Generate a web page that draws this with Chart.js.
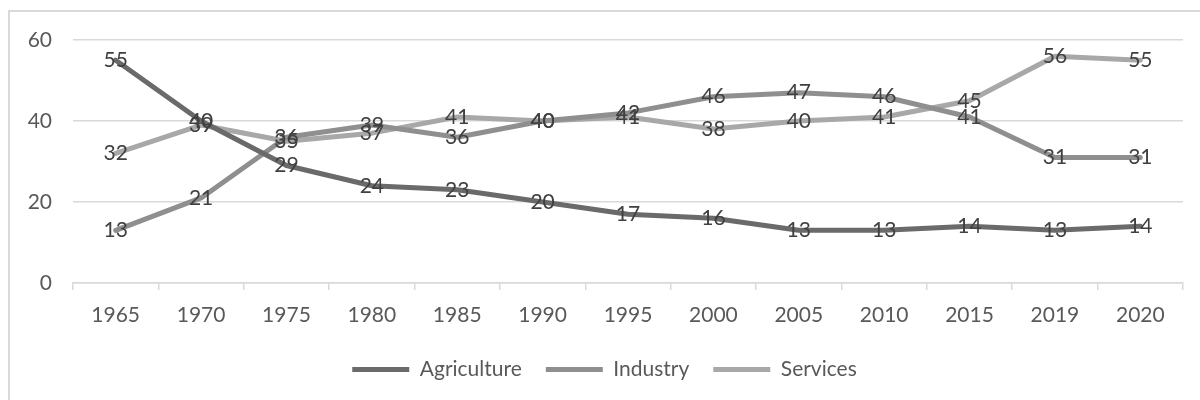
<!DOCTYPE html>
<html>
<head>
<meta charset="utf-8">
<script src="https://cdn.jsdelivr.net/npm/chart.js@4/dist/chart.umd.min.js"></script>
<style>
  html, body { margin: 0; padding: 0; background: #ffffff; overflow: hidden; width: 1200px; height: 400px; }
  #frame { position: absolute; left: 8px; top: 10px; width: 1220px; height: 420px; border: 2px solid #d9d9d9; }
  #wrap { position: absolute; left: 0; top: 0; width: 1200px; height: 400px; }
</style>
</head>
<body>
<div id="frame"></div>
<div id="wrap"><canvas id="c" width="1200" height="400"></canvas></div>
<script>
const categories = ['1965','1970','1975','1980','1985','1990','1995','2000','2005','2010','2015','2019','2020'];
const agriculture = [55, 40, 29, 24, 23, 20, 17, 16, 13, 13, 14, 13, 14];
const industry    = [13, 21, 36, 39, 36, 40, 42, 46, 47, 46, 41, 31, 31];
const services    = [32, 39, 35, 37, 41, 40, 41, 38, 40, 41, 45, 56, 55];
const yTicks = [0, 20, 40, 60];

const FONT = 'Lato, "Open Sans", sans-serif';

const valueLabels = {
  id: 'valueLabels',
  afterDatasetsDraw(chart) {
    const ctx = chart.ctx;
    ctx.save();
    ctx.font = '21px ' + FONT;
    ctx.fillStyle = '#404040';
    ctx.textAlign = 'center';
    ctx.textBaseline = 'middle';
    chart.data.datasets.forEach((ds, di) => {
      const meta = chart.getDatasetMeta(di);
      meta.data.forEach((pt, i) => {
        ctx.fillText(String(ds.data[i]), pt.x, pt.y);
      });
    });
    ctx.restore();
  }
};

const mk = (label, data, color) => ({
  label, data,
  borderColor: color, backgroundColor: color,
  borderWidth: 5, borderCapStyle: 'round', borderJoinStyle: 'round',
  pointRadius: 0, pointHoverRadius: 0, tension: 0, fill: false,
  pointStyle: 'line'
});

new Chart(document.getElementById('c'), {
  type: 'line',
  data: {
    labels: categories,
    datasets: [
      mk('Agriculture', agriculture, '#6a6a6a'),
      mk('Industry', industry, '#8f8f8f'),
      mk('Services', services, '#a8a8a8')
    ]
  },
  options: {
    responsive: false,
    animation: false,
    events: [],
    layout: { padding: { top: 40, right: 17, bottom: 10, left: 26 } },
    plugins: {
      tooltip: { enabled: false },
      legend: {
        position: 'bottom',
        labels: {
          usePointStyle: true,
          pointStyleWidth: 57,
          boxHeight: 20,
          padding: 24,
          color: '#595959',
          font: { family: FONT, size: 21 }
        }
      }
    },
    scales: {
      x: {
        type: 'category',
        offset: true,
        grid: { offset: true, drawOnChartArea: false, drawTicks: true, tickLength: 7, color: '#d9d9d9', lineWidth: 1.5 },
        border: { display: true, color: '#d9d9d9', width: 1.5 },
        ticks: { color: '#595959', font: { family: FONT, size: 21 }, padding: 13, maxRotation: 0, autoSkip: false },
        afterFit(s) { s.height = 52; }
      },
      y: {
        min: 0, max: 60,
        afterBuildTicks(s) { s.ticks = yTicks.map(v => ({ value: v })); },
        grid: { color: '#d9d9d9', lineWidth: 1.5, drawTicks: false },
        border: { display: false },
        ticks: { color: '#595959', font: { family: FONT, size: 21 }, padding: 21 },
        afterFit(s) { s.width = 47; }
      }
    }
  },
  plugins: [valueLabels]
});
</script>
</body>
</html>
